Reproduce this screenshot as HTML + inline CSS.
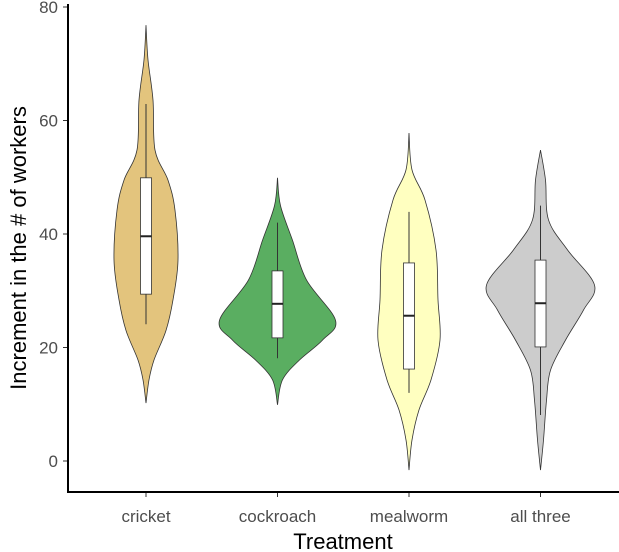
<!DOCTYPE html>
<html><head><meta charset="utf-8"><style>
body{margin:0;background:#fff}
svg{display:block;font-family:"Liberation Sans",Arial,sans-serif}
</style></head><body>
<svg id="chart" width="619" height="552"></svg>
<script>
const categories=["cricket","cockroach","mealworm","all three"];
const colors=["#e3c47d","#5aae61","#ffffc0","#cccccc"];
const yTicks=[0,20,40,60,80];
// density profiles: values and half-widths (px)
const densV=[
 [10.2,14.3,17.8,23,28.4,35.4,44.2,49.5,54.8,63.6,70.7,76.8],
 [9.9,14.3,17.8,21.3,24.8,31.9,38.9,45,49.9],
 [-1.6,3.7,9,14.3,21.3,28.4,37.2,46,51.3,57.8],
 [-1.6,3.7,10.7,16,21.3,26.6,31,37.2,42.5,49.5,54.8]
];
const densW=[
 [0,3,8,20,27,32,29,22,9,7,2,0],
 [0,5,22,45,58,29,15,3,0],
 [0,3,10,22,31,29,27,16,3,0],
 [0,3,6,10,25,43,54,27,8,5,0]
];
const whiskLo=[24.1,18.1,12,8.1];
const q1=[29.4,21.7,16.2,20.1];
const med=[39.6,27.7,25.6,27.8];
const q3=[49.9,33.5,34.9,35.4];
const whiskHi=[62.9,42,43.9,45];

const svg=document.getElementById('chart');
const NS="http://www.w3.org/2000/svg";
const yS=v=>461-5.675*v;
const xS=i=>146+i*131.5;
function mk(tag,attrs,parent){const e=document.createElementNS(NS,tag);for(const k in attrs)e.setAttribute(k,attrs[k]);(parent||svg).appendChild(e);return e;}
function smooth(pts){let d="M"+pts[0][0]+","+pts[0][1];for(let i=0;i<pts.length-1;i++){const p0=pts[Math.max(0,i-1)],p1=pts[i],p2=pts[i+1],p3=pts[Math.min(pts.length-1,i+2)];
 d+=" C"+(p1[0]+(p2[0]-p0[0])/6)+","+(p1[1]+(p2[1]-p0[1])/6)+" "+(p2[0]-(p3[0]-p1[0])/6)+","+(p2[1]-(p3[1]-p1[1])/6)+" "+p2[0]+","+p2[1];}return d;}
categories.forEach((c,i)=>{
 const g=mk('g',{});
 
 
 const cx=xS(i);
 const right=densV[i].map((v,k)=>[cx+densW[i][k],yS(v)]).reverse();
 const left=densV[i].map((v,k)=>[cx-densW[i][k],yS(v)]);
 const d=smooth(right)+" L"+smooth(left).slice(1)+"Z";
 const p=mk('path',{d:d,fill:colors[i],stroke:"#333",'stroke-width':0.8},g);
 
 
 const w=mk('line',{x1:cx,x2:cx,y1:yS(whiskHi[i]),y2:yS(whiskLo[i]),stroke:"#333",'stroke-width':1},g);
 
 
 const b=mk('rect',{x:cx-5.5,width:11,y:yS(q3[i]),height:yS(q1[i])-yS(q3[i]),fill:"#fff",stroke:"#333",'stroke-width':0.8},g);
 
 
 const m=mk('line',{x1:cx-5.5,x2:cx+5.5,y1:yS(med[i]),y2:yS(med[i]),stroke:"#222",'stroke-width':2},g);
 
 
 const t=mk('text',{x:cx,y:522,'text-anchor':'middle','font-size':17,fill:'#4d4d4d'});
 t.textContent=c;
 
 
 const tk=mk('line',{x1:cx,x2:cx,y1:492,y2:497,stroke:'#333'});
 
 
});
yTicks.forEach(v=>{
 const t=mk('text',{x:58,y:yS(v)+6,'text-anchor':'end','font-size':17,fill:'#4d4d4d'});
 t.textContent=v;
 
 
 const tk=mk('line',{x1:63,x2:68,y1:yS(v),y2:yS(v),stroke:'#333'});
 
 
});
const ya=mk('line',{x1:68,x2:68,y1:4,y2:493,stroke:'#000','stroke-width':2});


const xa=mk('line',{x1:67,x2:619,y1:492,y2:492,stroke:'#000','stroke-width':2});


const xt=mk('text',{x:343,y:549,'text-anchor':'middle','font-size':22,fill:'#000'});
xt.textContent='Treatment';


const yt=mk('text',{x:0,y:0,'text-anchor':'middle','font-size':22,fill:'#000',transform:'translate(26,248) rotate(-90)'});
yt.textContent='Increment in the # of workers';


</script>
</body></html>
